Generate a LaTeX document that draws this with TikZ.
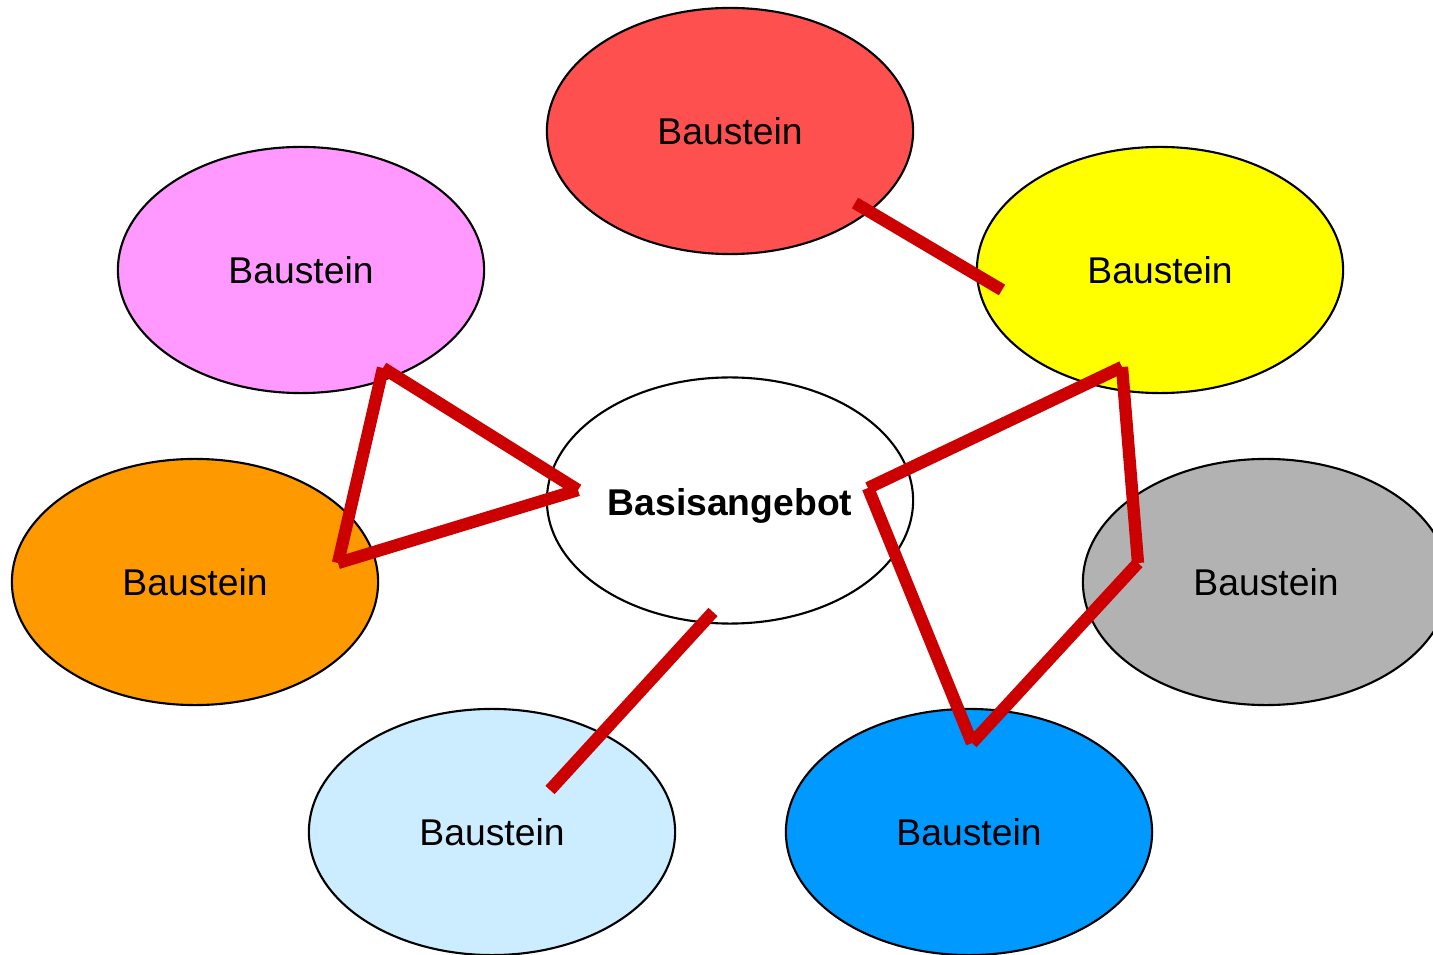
\documentclass[tikz,border=0pt]{standalone}
\usepackage{fontspec}
\setmainfont{Liberation Sans}
\usetikzlibrary{shapes.geometric}
\definecolor{fillrot}{HTML}{FF5050}
\definecolor{fillrosa}{HTML}{FF99FF}
\definecolor{fillgelb}{HTML}{FFFF00}
\definecolor{fillorange}{HTML}{FF9900}
\definecolor{fillgrau}{HTML}{B2B2B2}
\definecolor{fillhellblau}{HTML}{CCECFF}
\definecolor{fillblau}{HTML}{0099FF}
\definecolor{linierot}{HTML}{CC0000}
\tikzset{
  baustein/.style={ellipse, draw, line width=0.6pt, minimum width=3.66cm,
    minimum height=2.46cm, inner sep=0pt, font=\fontsize{10.6}{12}\selectfont},
  verbindung/.style={draw=linierot, line width=3.5pt, line cap=butt}
}
\begin{document}
\begin{tikzpicture}[x=0.01cm, y=-0.01cm]
    \useasboundingbox (0,0) rectangle (1433,955);
    % Bausteine
    \node[baustein, fill=fillrot] (rot) at (730,131) {Baustein};
    \node[baustein, fill=fillrosa] (rosa) at (301,270) {Baustein};
    \node[baustein, fill=fillgelb] (gelb) at (1160,270) {Baustein};
    \node[baustein, fill=white] (basis) at (730,500.5) {\raisebox{-4.4pt}[0pt][0pt]{\textbf{Basisangebot}}};
    \node[baustein, fill=fillorange] (orange) at (195,582) {Baustein};
    \node[baustein, fill=fillgrau] (grau) at (1266,582) {Baustein};
    \node[baustein, fill=fillhellblau] (hellblau) at (492,832) {Baustein};
    \node[baustein, fill=fillblau] (blau) at (969,832) {Baustein};
    % Eckpunkte der roten Linien
    \coordinate (a1) at (855,203);
    \coordinate (a2) at (1002,290);
    \coordinate (b1) at (383,368);
    \coordinate (b2) at (578,490);
    \coordinate (b3) at (338,563);
    \coordinate (c1) at (868,488);
    \coordinate (c2) at (1122,367);
    \coordinate (c3) at (1138,563);
    \coordinate (c4) at (972,743);
    \coordinate (d1) at (713,612);
    \coordinate (d2) at (550,790);
    \foreach \p/\q in {a1/a2, b1/b2, b2/b3, b3/b1, c1/c2, c2/c3, c3/c4, c4/c1, d1/d2} {
      \draw[verbindung] (\p) -- (\q);
    }
  \end{tikzpicture}
\end{document}
